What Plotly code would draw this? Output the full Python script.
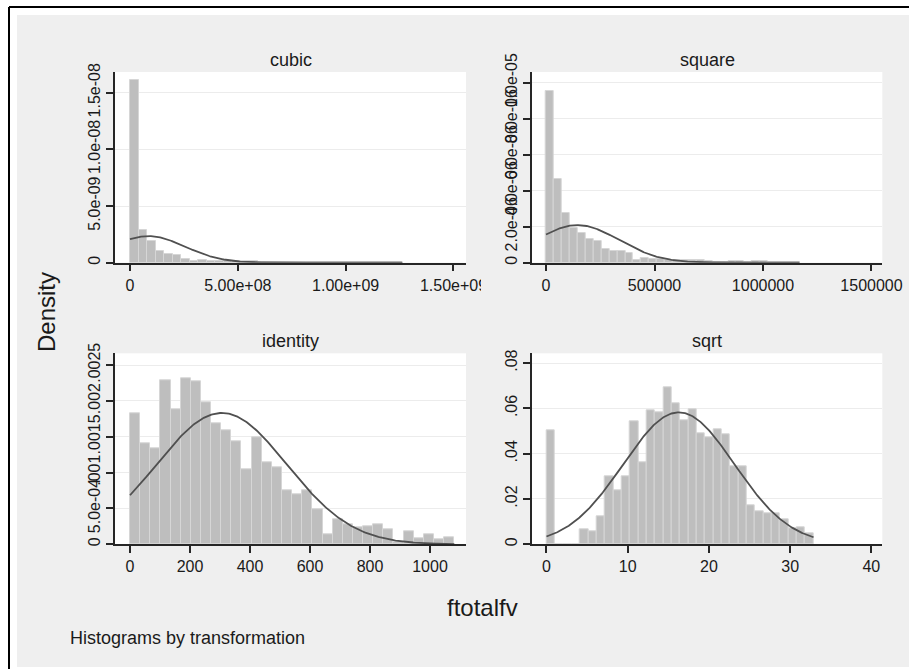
import numpy as np
import plotly.graph_objects as go

# ---------------- data ----------------
panel_names = ["cubic", "square", "identity", "sqrt"]

n_bins = 32

# histogram densities, 32 equal-width bins from 0 to the maximum
cubic_density = [16.08e-9, 2.88e-9, 1.91e-9, 1.06e-9, 0.74e-9, 0.65e-9, 0.30e-9, 0.18e-9,
                 0.24e-9, 0.19e-9, 0.16e-9, 0.14e-9, 0.13e-9, 0.13e-9, 0.13e-9, 0.10e-9,
                 0.09e-9, 0.04e-9, 0.02e-9, 0.04e-9, 0.07e-9, 0.06e-9, 0.03e-9, 0.045e-9,
                 0.04e-9, 0.025e-9, 0.02e-9, 0.025e-9, 0.03e-9, 0.02e-9, 0.025e-9, 0.025e-9]
square_density = [9.54e-6, 4.65e-6, 2.74e-6, 1.91e-6, 1.67e-6, 1.30e-6, 1.22e-6, 0.74e-6,
                  0.67e-6, 0.63e-6, 0.56e-6, 0.16e-6, 0.24e-6, 0.22e-6, 0.19e-6, 0.16e-6,
                  0.16e-6, 0.16e-6, 0.16e-6, 0.14e-6, 0.12e-6, 0.03e-6, 0.04e-6, 0.10e-6,
                  0.07e-6, 0.05e-6, 0.07e-6, 0.07e-6, 0.04e-6, 0.04e-6, 0.05e-6, 0.03e-6]
identity_density = [0.001833, 0.001414, 0.001335, 0.002288, 0.001884, 0.002312, 0.002279, 0.001986,
                    0.001693, 0.001591, 0.001437, 0.001047, 0.001498, 0.001140, 0.001070, 0.000753,
                    0.000698, 0.000753, 0.000484, 0.000135, 0.000349, 0.000279, 0.000242, 0.000251,
                    0.000274, 0.000205, 0.000033, 0.000181, 0.000088, 0.000135, 0.000074, 0.000093]
sqrt_density = [0.0505, 0.0, 0.0, 0.0, 0.0065, 0.0057, 0.0125, 0.0301,
                0.0237, 0.0301, 0.0544, 0.0360, 0.0591, 0.0581, 0.0691, 0.0621,
                0.0547, 0.0596, 0.0488, 0.0474, 0.0507, 0.0484, 0.0346, 0.0346,
                0.0172, 0.0146, 0.0135, 0.0138, 0.0109, 0.0069, 0.0076, 0.0047]

# data range of each transformed variable
cubic_max = 1.2634e9
square_max = 1.1686e6
identity_max = 1081.0
sqrt_max = 32.88

# normal-density overlay parameters (mean, sd)
cubic_mean, cubic_sd = 8.5e7, 1.70e8
square_mean, square_sd = 1.45e5, 1.909e5
identity_mean, identity_sd = 305.6, 217.7
sqrt_mean, sqrt_sd = 16.3, 6.85

# tick values / labels
cubic_xticks = [0, 5e8, 1e9, 1.5e9]
cubic_xlabels = ["0", "5.00e+08", "1.00e+09", "1.50e+09"]
cubic_yticks = [0, 5e-9, 1e-8, 1.5e-8]
cubic_ylabels = ["0", "5.0e-09", "1.0e-08", "1.5e-08"]

square_xticks = [0, 5e5, 1e6, 1.5e6]
square_xlabels = ["0", "500000", "1000000", "1500000"]
square_yticks = [0, 2e-6, 4e-6, 6e-6, 8e-6, 1e-5]
square_ylabels = ["0", "2.0e-06", "4.0e-06", "6.0e-06", "8.0e-06", "1.0e-05"]

identity_xticks = [0, 200, 400, 600, 800, 1000]
identity_xlabels = ["0", "200", "400", "600", "800", "1000"]
identity_yticks = [0, 0.0005, 0.001, 0.0015, 0.002, 0.0025]
identity_ylabels = ["0", "5.0e-04", ".001", ".0015", ".002", ".0025"]

sqrt_xticks = [0, 10, 20, 30, 40]
sqrt_xlabels = ["0", "10", "20", "30", "40"]
sqrt_yticks = [0, 0.02, 0.04, 0.06, 0.08]
sqrt_ylabels = ["0", ".02", ".04", ".06", ".08"]

x_title = "ftotalfv"
y_title = "Density"
note_text = "Histograms by transformation"

# ---------------- layout geometry (pixels) ----------------
# the figure is drawn slightly larger than the 909x669 window so that its
# right/bottom edges fall outside the visible area
FW, FH = 930, 690
FONT = "Liberation Sans, Arial, Helvetica, sans-serif"
TXT = "#1a1a1a"
AX = "#262626"
BG = "#efefef"


def px_x(p):
    return p / FW


def px_y(p):
    return 1 - p / FH


col_left = (115, 466)
col_right = (531.7, 882.3)
row_top = (72, 262.7)
row_bottom = (353.3, 544.3)

panels = [
    dict(name=panel_names[0], dens=cubic_density, vmax=cubic_max, mean=cubic_mean, sd=cubic_sd,
         xt=cubic_xticks, xl=cubic_xlabels, yt=cubic_yticks, yl=cubic_ylabels,
         xr=[-6.96e7, 1.558e9], yr=[0, 1.682e-8], col=col_left, row=row_top),
    dict(name=panel_names[1], dens=square_density, vmax=square_max, mean=square_mean, sd=square_sd,
         xt=square_xticks, xl=square_xlabels, yt=square_yticks, yl=square_ylabels,
         xr=[-6.59e4, 1.5498e6], yr=[0, 1.059e-5], col=col_right, row=row_top),
    dict(name=panel_names[2], dens=identity_density, vmax=identity_max, mean=identity_mean, sd=identity_sd,
         xt=identity_xticks, xl=identity_xlabels, yt=identity_yticks, yl=identity_ylabels,
         xr=[-50, 1120], yr=[0, 0.002665], col=col_left, row=row_bottom),
    dict(name=panel_names[3], dens=sqrt_density, vmax=sqrt_max, mean=sqrt_mean, sd=sqrt_sd,
         xt=sqrt_xticks, xl=sqrt_xlabels, yt=sqrt_yticks, yl=sqrt_ylabels,
         xr=[-1.82, 41.35], yr=[0, 0.0843], col=col_right, row=row_bottom),
]

fig = go.Figure()
layout_axes = {}
annotations = []

for i, p in enumerate(panels, start=1):
    sfx = "" if i == 1 else str(i)
    xa, ya = "x" + sfx, "y" + sfx
    width = p["vmax"] / n_bins
    centers = (np.arange(n_bins) + 0.5) * width
    fig.add_trace(go.Bar(
        x=centers, y=p["dens"], width=width,
        marker=dict(color="#bebebe", line=dict(color="#d6d6d6", width=1)),
        xaxis=xa, yaxis=ya, showlegend=False, hoverinfo="skip"))
    xs = np.linspace(0, p["vmax"], 300)
    ys = np.exp(-0.5 * ((xs - p["mean"]) / p["sd"]) ** 2) / (p["sd"] * np.sqrt(2 * np.pi))
    fig.add_trace(go.Scatter(
        x=xs, y=ys, mode="lines", line=dict(color="#505050", width=1.8),
        xaxis=xa, yaxis=ya, showlegend=False, hoverinfo="skip"))

    layout_axes["xaxis" + sfx] = dict(
        domain=[px_x(p["col"][0]), px_x(p["col"][1])], anchor=ya, range=p["xr"],
        tickmode="array", tickvals=p["xt"], ticktext=p["xl"], automargin=False,
        showgrid=False, zeroline=False, showline=True, linecolor=AX, linewidth=1.5,
        ticks="outside", ticklen=7, tickwidth=1.5, tickcolor=AX,
        tickfont=dict(family=FONT, size=16, color=TXT), fixedrange=True)
    layout_axes["yaxis" + sfx] = dict(
        domain=[px_y(p["row"][1]), px_y(p["row"][0])], anchor=xa, range=p["yr"],
        tickmode="array", tickvals=p["yt"], ticktext=p["yl"], tickangle=-90,
        automargin=False,
        showgrid=True, gridcolor="#ececec", gridwidth=1, zeroline=False,
        showline=True, linecolor=AX, linewidth=1.5,
        ticks="outside", ticklen=7, tickwidth=1.5, tickcolor=AX,
        tickfont=dict(family=FONT, size=16, color=TXT), fixedrange=True)
    annotations.append(dict(
        text=p["name"], xref="paper", yref="paper",
        x=px_x((p["col"][0] + p["col"][1]) / 2), y=px_y(p["row"][0] - 12),
        xanchor="center", yanchor="middle", showarrow=False,
        font=dict(family=FONT, size=18, color=TXT)))

annotations += [
    dict(text=y_title, xref="paper", yref="paper", x=px_x(46), y=px_y(312),
         xanchor="center", yanchor="middle", textangle=-90, showarrow=False,
         font=dict(family=FONT, size=24, color=TXT)),
    dict(text=x_title, xref="paper", yref="paper", x=px_x(482), y=px_y(607),
         xanchor="center", yanchor="middle", showarrow=False,
         font=dict(family=FONT, size=24, color=TXT)),
    dict(text=note_text, xref="paper", yref="paper", x=px_x(68), y=px_y(638),
         xanchor="left", yanchor="middle", showarrow=False,
         font=dict(family=FONT, size=18, color=TXT)),
]

shapes = [
    # white outside strips (window area outside the graph)
    dict(type="rect", xref="paper", yref="paper", x0=0, x1=px_x(17), y0=0, y1=1,
         fillcolor="white", line=dict(width=0, color="white"), layer="below"),
    dict(type="rect", xref="paper", yref="paper", x0=0, x1=1, y0=px_y(15), y1=1,
         fillcolor="white", line=dict(width=0, color="white"), layer="below"),
    dict(type="rect", xref="paper", yref="paper", x0=0, x1=1, y0=0, y1=px_y(667),
         fillcolor="white", line=dict(width=0, color="white"), layer="below"),
    # black window frame (top and left)
    dict(type="line", xref="paper", yref="paper", x0=px_x(9), x1=1, y0=px_y(7), y1=px_y(7),
         line=dict(color="black", width=2)),
    dict(type="line", xref="paper", yref="paper", x0=px_x(9), x1=px_x(9), y0=0, y1=px_y(7),
         line=dict(color="black", width=2)),
    # clip of the overflowing last tick label in the cubic panel
    dict(type="rect", xref="paper", yref="paper", x0=px_x(481), x1=px_x(499),
         y0=px_y(296), y1=px_y(268), fillcolor=BG, line=dict(width=0, color=BG),
         layer="above"),
]

fig.update_layout(
    width=FW, height=FH, margin=dict(l=0, r=0, t=0, b=0, pad=0, autoexpand=False),
    paper_bgcolor=BG, plot_bgcolor="white",
    barmode="overlay", bargap=0, showlegend=False,
    annotations=annotations, shapes=shapes,
    **layout_axes)

fig.write_html(
    "out.html",
    config={"displayModeBar": False},
    post_script="document.body.style.margin='0px';document.body.style.overflow='hidden';")
